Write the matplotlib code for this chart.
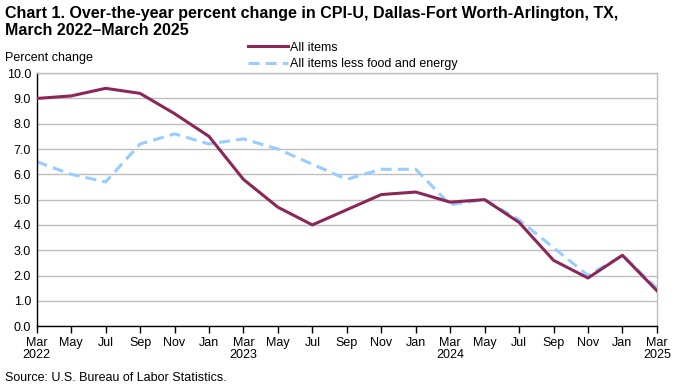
import matplotlib
matplotlib.use('Agg')
import matplotlib.pyplot as plt
import numpy as np

plt.rcParams['font.family'] = ['Liberation Sans', 'DejaVu Sans']

months = ["Mar\n2022", "May", "Jul", "Sep", "Nov", "Jan",
          "Mar\n2023", "May", "Jul", "Sep", "Nov", "Jan",
          "Mar\n2024", "May", "Jul", "Sep", "Nov", "Jan",
          "Mar\n2025"]

all_items = [9.0, 9.1, 9.4, 9.2, 8.4, 7.5,
             5.8, 4.7, 4.0, 4.6, 5.2, 5.3,
             4.9, 5.0, 4.1, 2.6, 1.9, 2.8,
             1.4]

core = [6.5, 6.0, 5.7, 7.2, 7.6, 7.2,
        7.4, 7.0, 6.4, 5.8, 6.2, 6.2,
        4.8, 5.0, 4.2, 3.1, 2.0, 2.8,
        1.5]

x = np.arange(len(months))

fig = plt.figure(figsize=(6.8, 3.85), dpi=100)
ax = fig.add_axes([0.054, 0.153, 0.912, 0.657])

ax.plot(x, all_items, color='#8B2758', linewidth=2.2, label='All items', zorder=3)
ax.plot(x, core, color='#99CCFF', linewidth=2.2, dashes=(3.6, 2.0),
        label='All items less food and energy', zorder=2)

ax.set_xlim(0, len(months) - 1)
ax.set_ylim(0, 10)
ax.set_yticks(np.arange(0, 10.5, 1.0))
ax.set_yticklabels(['%.1f' % v for v in np.arange(0, 10.5, 1.0)], fontsize=9)
ax.set_xticks(x)
ax.set_xticklabels(months, fontsize=9, linespacing=1.0)

ax.grid(True, axis='y', color='#BDBDBD', linewidth=1)
ax.set_axisbelow(True)
ax.tick_params(axis='y', length=0, pad=4)
ax.tick_params(axis='x', direction='out', length=5, width=1, color='black', pad=3)

ax.spines['left'].set_color('black')
ax.spines['bottom'].set_color('black')
ax.spines['right'].set_color('#BDBDBD')
ax.spines['top'].set_color('#BDBDBD')
for s in ax.spines.values():
    s.set_linewidth(1)

fig.text(0.007, 0.985, 'Chart 1. Over-the-year percent change in CPI-U, Dallas-Fort Worth-Arlington, TX,\nMarch 2022\u2013March 2025',
         fontsize=11.5, fontweight='bold', va='top', ha='left', linespacing=1.15)
fig.text(0.007, 0.833, 'Percent change', fontsize=9, va='bottom', ha='left')
fig.text(0.007, 0.002, 'Source: U.S. Bureau of Labor Statistics.', fontsize=9, va='bottom', ha='left')

fig.legend(loc='upper left', bbox_to_anchor=(0.358, 0.905), frameon=False, fontsize=9,
           handlelength=3.2, handletextpad=0.15, labelspacing=0.35, borderaxespad=0)

plt.savefig('out.png', dpi=100)
